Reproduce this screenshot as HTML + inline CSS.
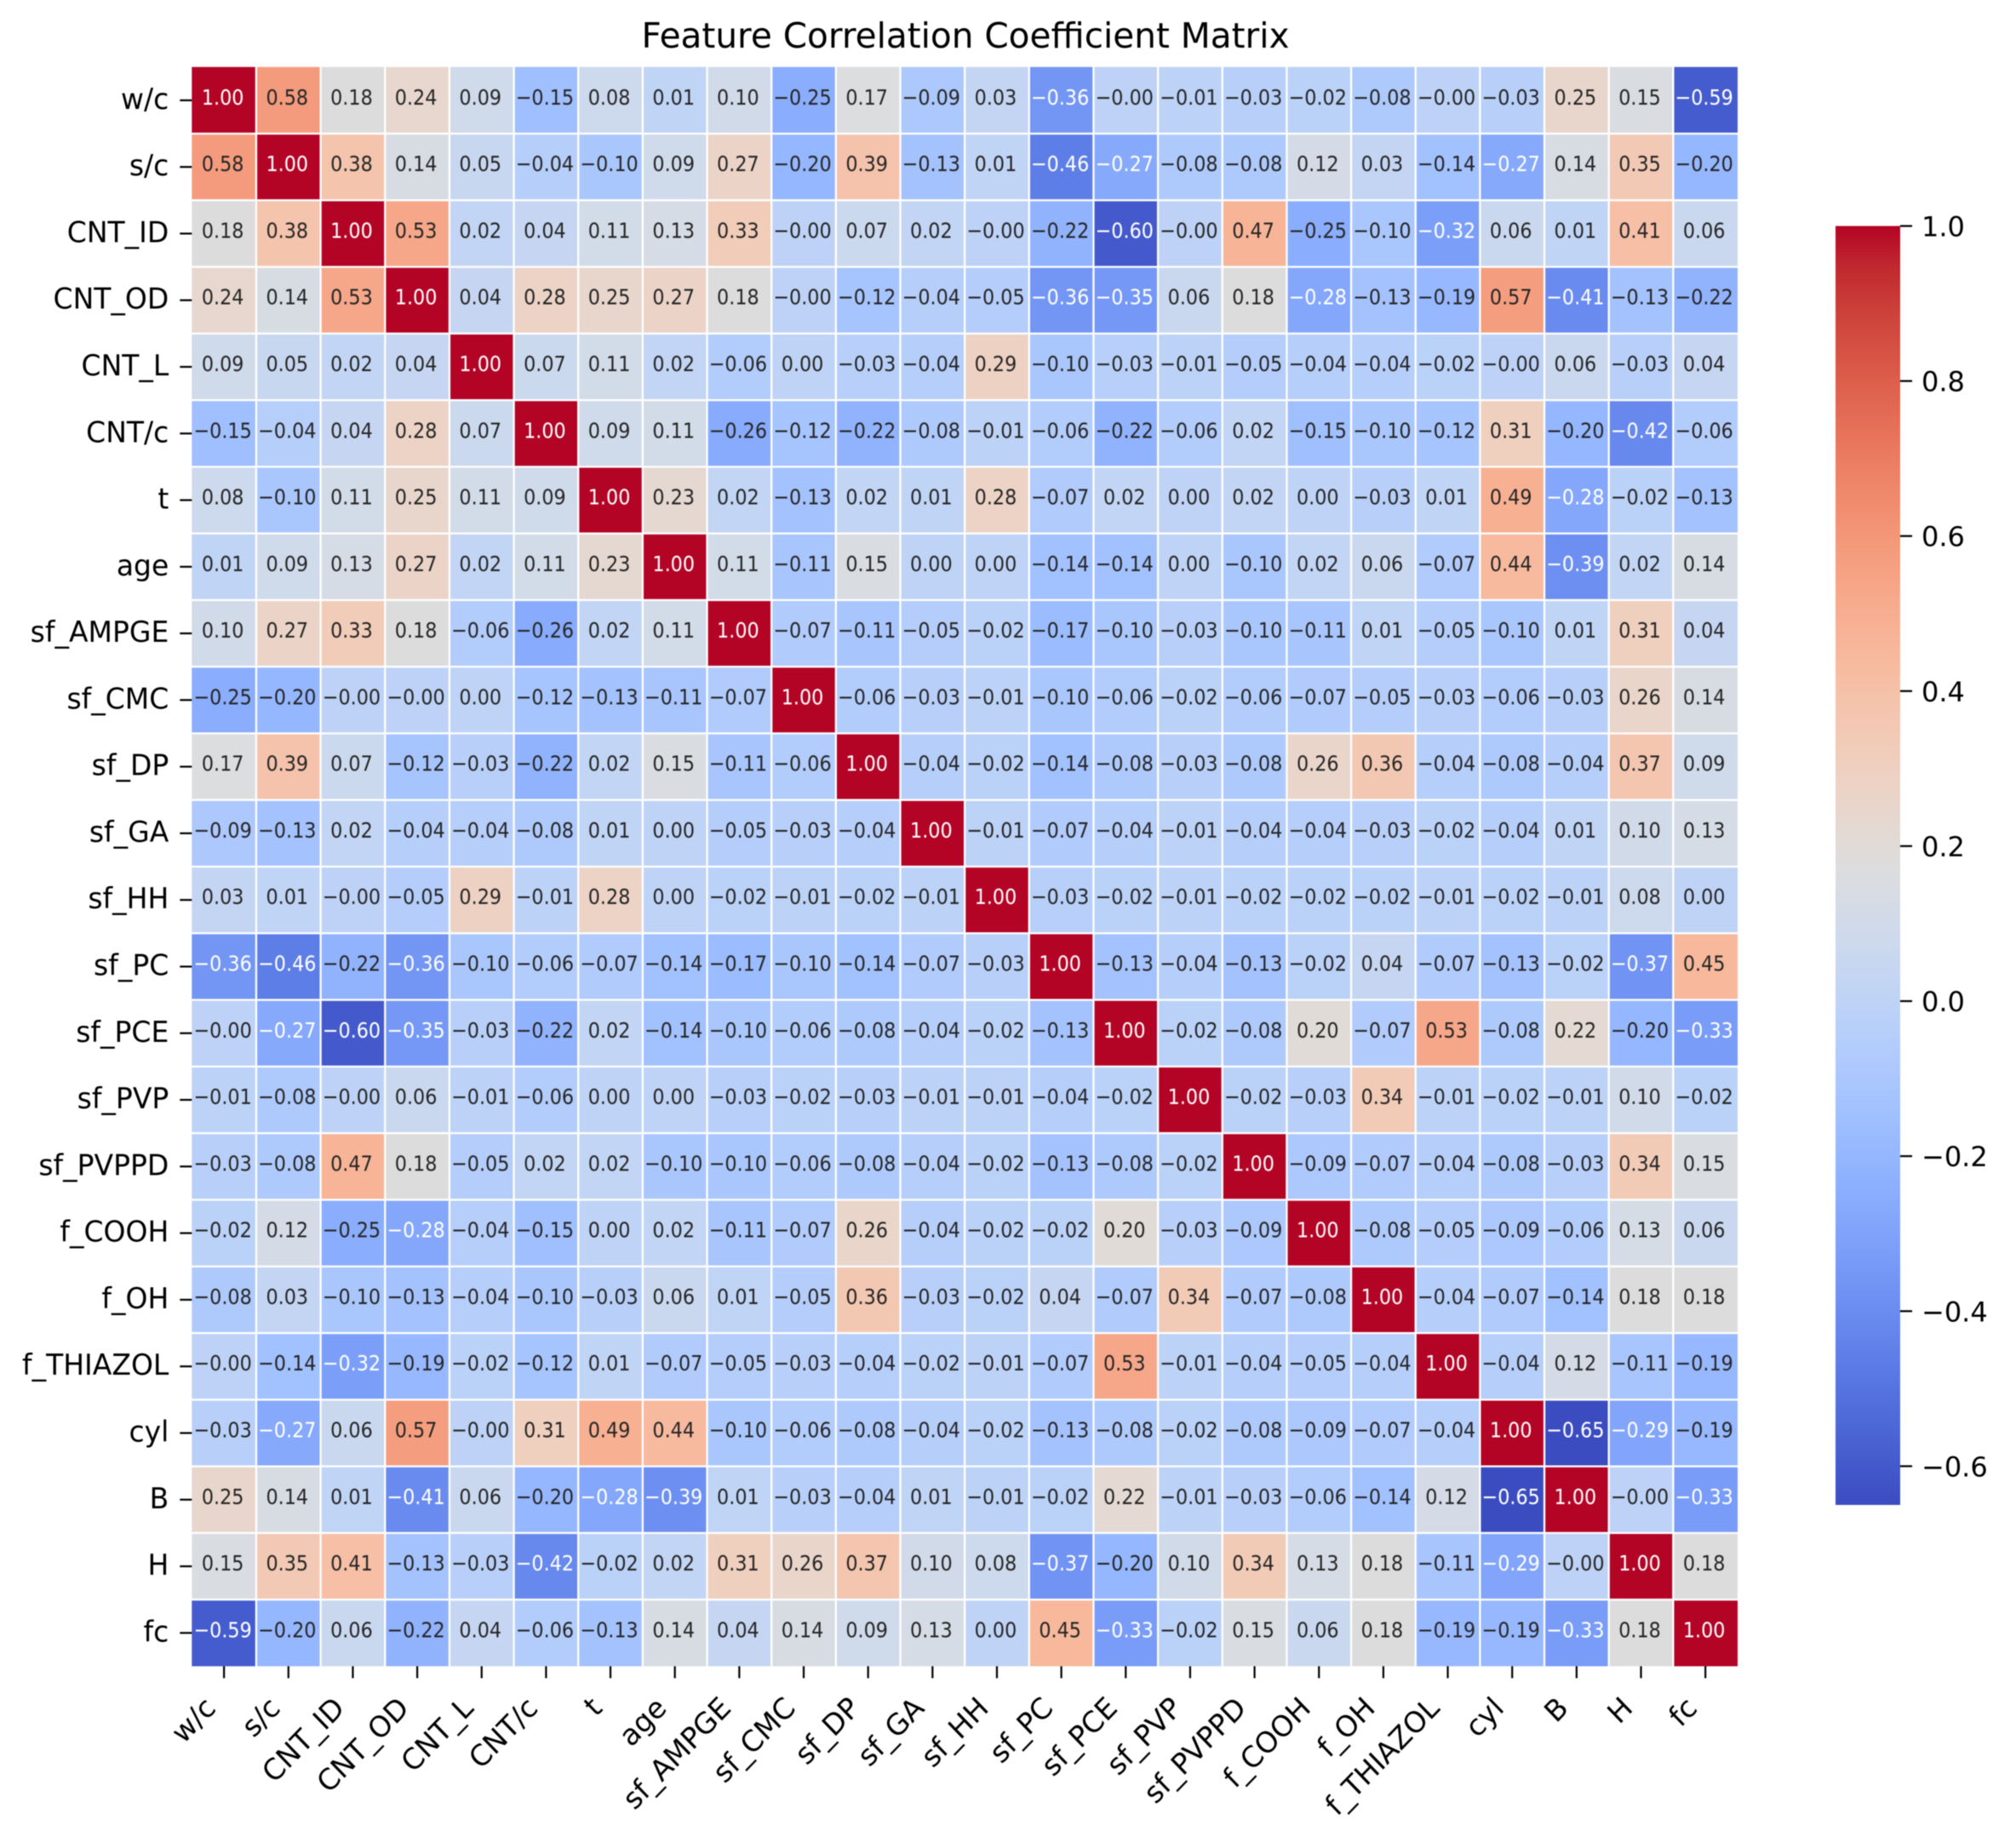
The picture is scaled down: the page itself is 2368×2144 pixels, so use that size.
<!DOCTYPE html>
<html lang="en">
<head>
<meta charset="utf-8">
<title>Feature Correlation Coefficient Matrix</title>
<style>
html,body{margin:0;padding:0;background:#fff;}
svg{display:block;filter:blur(0.6px);}
text{font-family:"DejaVu Sans","Liberation Sans",sans-serif;}
</style>
</head>
<body>
<svg id="chart" xmlns="http://www.w3.org/2000/svg" width="2368" height="2144" viewBox="0 0 2368 2144">
  <rect x="0" y="0" width="2368" height="2144" fill="#ffffff"/>
  <text x="1134" y="56" font-size="40.6" text-anchor="middle" fill="#000">Feature Correlation Coefficient Matrix</text>
  <defs>
    <linearGradient id="cbarGrad" x1="0" y1="1" x2="0" y2="0"></linearGradient>
  </defs>
  <g id="cells"></g>
  <g id="annots"></g>
  <g id="yaxis"></g>
  <g id="xaxis"></g>
  <rect x="2156" y="265.5" width="76" height="1502.5" fill="url(#cbarGrad)"/>
  <g id="cbaxis"></g>
</svg>
<script>
const categories = ["w/c","s/c","CNT_ID","CNT_OD","CNT_L","CNT/c","t","age","sf_AMPGE","sf_CMC","sf_DP","sf_GA","sf_HH","sf_PC","sf_PCE","sf_PVP","sf_PVPPD","f_COOH","f_OH","f_THIAZOL","cyl","B","H","fc"];
const colorbarTicks = [1.0,0.8,0.6,0.4,0.2,0.0,-0.2,-0.4,-0.6];
const correlation = [
[1,.58,.18,.24,.09,-.15,.08,.01,.10,-.25,.17,-.09,.03,-.36,-.004,-.01,-.03,-.02,-.08,-.004,-.03,.25,.15,-.59],
[.58,1,.38,.14,.05,-.04,-.10,.09,.27,-.20,.39,-.13,.01,-.46,-.27,-.08,-.08,.12,.03,-.14,-.27,.14,.35,-.20],
[.18,.38,1,.53,.02,.04,.11,.13,.33,-.004,.07,.02,-.004,-.22,-.60,-.004,.47,-.25,-.10,-.32,.06,.01,.41,.06],
[.24,.14,.53,1,.04,.28,.25,.27,.18,-.004,-.12,-.04,-.05,-.36,-.35,.06,.18,-.28,-.13,-.19,.57,-.41,-.13,-.22],
[.09,.05,.02,.04,1,.07,.11,.02,-.06,.004,-.03,-.04,.29,-.10,-.03,-.01,-.05,-.04,-.04,-.02,-.004,.06,-.03,.04],
[-.15,-.04,.04,.28,.07,1,.09,.11,-.26,-.12,-.22,-.08,-.01,-.06,-.22,-.06,.02,-.15,-.10,-.12,.31,-.20,-.42,-.06],
[.08,-.10,.11,.25,.11,.09,1,.23,.02,-.13,.02,.01,.28,-.07,.02,.004,.02,.004,-.03,.01,.49,-.28,-.02,-.13],
[.01,.09,.13,.27,.02,.11,.23,1,.11,-.11,.15,.004,.004,-.14,-.14,.004,-.10,.02,.06,-.07,.44,-.39,.02,.14],
[.10,.27,.33,.18,-.06,-.26,.02,.11,1,-.07,-.11,-.05,-.02,-.17,-.10,-.03,-.10,-.11,.01,-.05,-.10,.01,.31,.04],
[-.25,-.20,-.004,-.004,.004,-.12,-.13,-.11,-.07,1,-.06,-.03,-.01,-.10,-.06,-.02,-.06,-.07,-.05,-.03,-.06,-.03,.26,.14],
[.17,.39,.07,-.12,-.03,-.22,.02,.15,-.11,-.06,1,-.04,-.02,-.14,-.08,-.03,-.08,.26,.36,-.04,-.08,-.04,.37,.09],
[-.09,-.13,.02,-.04,-.04,-.08,.01,.004,-.05,-.03,-.04,1,-.01,-.07,-.04,-.01,-.04,-.04,-.03,-.02,-.04,.01,.10,.13],
[.03,.01,-.004,-.05,.29,-.01,.28,.004,-.02,-.01,-.02,-.01,1,-.03,-.02,-.01,-.02,-.02,-.02,-.01,-.02,-.01,.08,.004],
[-.36,-.46,-.22,-.36,-.10,-.06,-.07,-.14,-.17,-.10,-.14,-.07,-.03,1,-.13,-.04,-.13,-.02,.04,-.07,-.13,-.02,-.37,.45],
[-.004,-.27,-.60,-.35,-.03,-.22,.02,-.14,-.10,-.06,-.08,-.04,-.02,-.13,1,-.02,-.08,.20,-.07,.53,-.08,.22,-.20,-.33],
[-.01,-.08,-.004,.06,-.01,-.06,.004,.004,-.03,-.02,-.03,-.01,-.01,-.04,-.02,1,-.02,-.03,.34,-.01,-.02,-.01,.10,-.02],
[-.03,-.08,.47,.18,-.05,.02,.02,-.10,-.10,-.06,-.08,-.04,-.02,-.13,-.08,-.02,1,-.09,-.07,-.04,-.08,-.03,.34,.15],
[-.02,.12,-.25,-.28,-.04,-.15,.004,.02,-.11,-.07,.26,-.04,-.02,-.02,.20,-.03,-.09,1,-.08,-.05,-.09,-.06,.13,.06],
[-.08,.03,-.10,-.13,-.04,-.10,-.03,.06,.01,-.05,.36,-.03,-.02,.04,-.07,.34,-.07,-.08,1,-.04,-.07,-.14,.18,.18],
[-.004,-.14,-.32,-.19,-.02,-.12,.01,-.07,-.05,-.03,-.04,-.02,-.01,-.07,.53,-.01,-.04,-.05,-.04,1,-.04,.12,-.11,-.19],
[-.03,-.27,.06,.57,-.004,.31,.49,.44,-.10,-.06,-.08,-.04,-.02,-.13,-.08,-.02,-.08,-.09,-.07,-.04,1,-.65,-.29,-.19],
[.25,.14,.01,-.41,.06,-.20,-.28,-.39,.01,-.03,-.04,.01,-.01,-.02,.22,-.01,-.03,-.06,-.14,.12,-.65,1,-.004,-.33],
[.15,.35,.41,-.13,-.03,-.42,-.02,.02,.31,.26,.37,.10,.08,-.37,-.20,.10,.34,.13,.18,-.11,-.29,-.004,1,.18],
[-.59,-.20,.06,-.22,.04,-.06,-.13,.14,.04,.14,.09,.13,.004,.45,-.33,-.02,.15,.06,.18,-.19,-.19,-.33,.18,1]
];
const coolwarmR = [.2298057,.26623388,.30386891,.342804478,.38301334,.424369608,.46666708,.509635204,.552953156,.596262162,.639176211,.681291281,.722193294,.761464949,.798691636,.833466556,.865395197,.897787179,.924127593,.944468518,.958852946,.96732803,.969954137,.966811177,.958003065,.943660866,.923944917,.89904617,.869186849,.834620542,.795631745,.752534934,.705673158];
const coolwarmG = [.298717966,.353094838,.406535296,.458757618,.50941904,.558148092,.604562568,.648280772,.688929332,.726149107,.759599947,.788964712,.813952739,.834302879,.849786142,.860207984,.86541021,.848937047,.827384882,.800927443,.769767752,.734132809,.694266682,.650421156,.602842431,.551750968,.49730856,.439559467,.378313092,.312874446,.24128379,.157246067,.01555616];
const coolwarmB = [.753683153,.801466763,.84495867,.883725899,.917387822,.945619588,.968154911,.98478814,.995375608,.999836203,.998151185,.990363227,.976574709,.956945269,.931688648,.901068838,.865395561,.820880546,.774508472,.726736146,.678007945,.628751763,.579375448,.530263762,.481775914,.434243684,.387970225,.343229596,.300267182,.259301199,.220525627,.184115123,.150232812];

const vmin = -0.65, vmax = 1;
const SVGNS = "http://www.w3.org/2000/svg";
const plotLeft = 225.3, plotRight = 2041, plotTop = 78.7, plotBottom = 1957.5;
const cbTop = 265.5, cbBottom = 1768, cbRight = 2232;
const colW = (plotRight - plotLeft) / categories.length;
const rowH = (plotBottom - plotTop) / categories.length;

function xScale(i){ return plotLeft + i * colW; }
function yScale(i){ return plotTop + i * rowH; }
function cbScale(v){ return cbBottom - (v - vmin) / (vmax - vmin) * (cbBottom - cbTop); }
function rgbAt(t){
  t = Math.max(0, Math.min(1, t));
  const p = t * 32, i = Math.min(31, Math.floor(p)), f = p - i;
  return [coolwarmR, coolwarmG, coolwarmB].map(c => c[i] + (c[i + 1] - c[i]) * f);
}
function colorOf(v){ return rgbAt((v - vmin) / (vmax - vmin)); }
function css(c){ return "rgb(" + c.map(x => Math.round(x * 255)).join(",") + ")"; }
function luminance(c){
  const l = c.map(x => x <= 0.03928 ? x / 12.92 : Math.pow((x + 0.055) / 1.055, 2.4));
  return 0.2126 * l[0] + 0.7152 * l[1] + 0.0722 * l[2];
}
function fmt(v, d){ return v.toFixed(d).replace("-", "\u2212"); }
function mk(tag, parent){
  const el = document.createElementNS(SVGNS, tag);
  parent.appendChild(el);
  return el;
}

const cellsG = document.getElementById("cells");
const annotsG = document.getElementById("annots");
const yG = document.getElementById("yaxis");
const xG = document.getElementById("xaxis");
const cbG = document.getElementById("cbaxis");
const gap = 1.15;

correlation.forEach((row, r) => {
  row.forEach((v, c) => {
    const col = colorOf(v);
    const cell = mk("rect", cellsG);
    
    
    cell.setAttribute("x", xScale(c) + (c ? gap : 0));
    cell.setAttribute("y", yScale(r) + (r ? gap : 0));
    cell.setAttribute("width", colW - (c ? gap : 0) - (c < row.length - 1 ? gap : 0));
    cell.setAttribute("height", rowH - (r ? gap : 0) - (r < correlation.length - 1 ? gap : 0));
    cell.setAttribute("fill", css(col));
    const t = mk("text", annotsG);
    
    
    t.setAttribute("text-anchor", "middle");
    t.setAttribute("font-size", "22.3");
    t.setAttribute("fill", luminance(col) > 0.408 ? "#262626" : "#ffffff");
    t.setAttribute("transform", "translate(" + (xScale(c) + colW / 2 - 1.5) + " " + (yScale(r) + rowH / 2 + 5) + ") scale(1 1.13)");
    t.textContent = fmt(v, 2);
  });
});

categories.forEach((name, i) => {
  const cy = yScale(i) + rowH / 2;
  const yt = mk("rect", yG);
  
  
  yt.setAttribute("x", plotLeft - 14);
  yt.setAttribute("y", cy - 1.1);
  yt.setAttribute("width", 14);
  yt.setAttribute("height", 2.2);
  yt.setAttribute("fill", "#000");
  const yl = mk("text", yG);
  
  
  yl.setAttribute("text-anchor", "end");
  yl.setAttribute("font-size", "33");
  yl.setAttribute("fill", "#000");
  yl.setAttribute("transform", "translate(" + (plotLeft - 27) + " " + (cy + 10) + ") scale(1 1.035)");
  yl.textContent = name;

  const cx = xScale(i) + colW / 2;
  const xt = mk("rect", xG);
  
  
  xt.setAttribute("x", cx - 1.1);
  xt.setAttribute("y", plotBottom);
  xt.setAttribute("width", 2.2);
  xt.setAttribute("height", 14);
  xt.setAttribute("fill", "#000");
  const xl = mk("text", xG);
  
  
  xl.setAttribute("text-anchor", "end");
  xl.setAttribute("font-size", "33");
  xl.setAttribute("fill", "#000");
  xl.setAttribute("transform", "translate(" + (cx - 8) + " " + (plotBottom + 51) + ") scale(1 1.035) rotate(-45)");
  xl.textContent = name;
});

const grad = document.getElementById("cbarGrad");
coolwarmR.forEach((_, i) => {
  const stop = mk("stop", grad);
  stop.setAttribute("offset", i / 32);
  stop.setAttribute("stop-color", css(rgbAt(i / 32)));
});

colorbarTicks.forEach(v => {
  const y = cbScale(v);
  const tk = mk("rect", cbG);
  
  
  tk.setAttribute("x", cbRight);
  tk.setAttribute("y", y - 1.1);
  tk.setAttribute("width", 14);
  tk.setAttribute("height", 2.2);
  tk.setAttribute("fill", "#000");
  const lb = mk("text", cbG);
  
  
  lb.setAttribute("x", 2257);
  lb.setAttribute("y", y + 12);
  lb.setAttribute("font-size", "32");
  lb.setAttribute("fill", "#000");
  lb.textContent = fmt(v, 1);
});
</script>
</body>
</html>
